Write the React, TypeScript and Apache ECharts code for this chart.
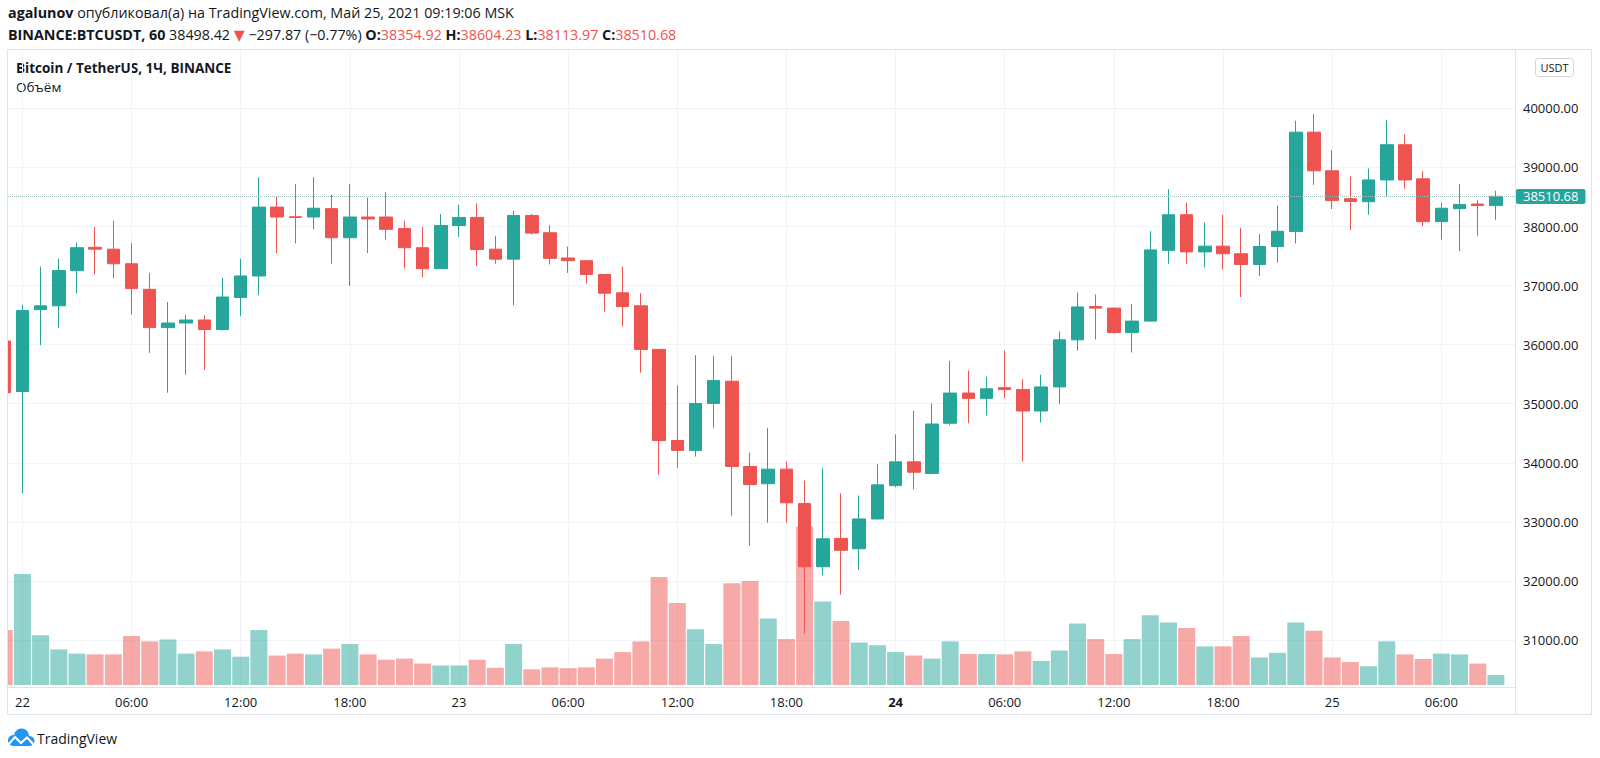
import React, { useEffect, useRef } from "react";
import * as echarts from "echarts";

// hours since 22 May 2021 00:00 (MSK), one candle per hour
const hours = [
  -1, 0, 1, 2, 3, 4, 5, 6, 7, 8, 9, 10, 11, 12, 13, 14, 15, 16, 17, 18, 19, 20,
  21, 22, 23, 24, 25, 26, 27, 28, 29, 30, 31, 32, 33, 34, 35, 36, 37, 38, 39, 40,
  41, 42, 43, 44, 45, 46, 47, 48, 49, 50, 51, 52, 53, 54, 55, 56, 57, 58, 59, 60,
  61, 62, 63, 64, 65, 66, 67, 68, 69, 70, 71, 72, 73, 74, 75, 76, 77, 78, 79, 80, 81,
];

const openP = [
  36062, 35207, 36593, 36658, 37254, 37649, 37617, 37370, 36937, 36289, 36367, 36418,
  36256, 36800, 37163, 38329, 38165, 38161, 38303, 37811, 38161, 38161, 37966, 37642,
  37286, 38018, 38154, 37617, 37448, 38187, 37895, 37468, 37422, 37189, 36878, 36658,
  35920, 34378, 34210, 35006, 35382, 33938, 33646, 33893, 33310, 32241, 32720, 32545,
  33050, 33614, 34016, 33821, 34670, 35181, 35091, 35272, 35240, 34877, 35285, 36082,
  36645, 36619, 36205, 36399, 37597, 38200, 37571, 37668, 37539, 37358, 37662, 37915,
  39598, 38944, 38472, 38420, 38789, 39385, 38808, 38083, 38303, 38381, 38354.92,
];
const closeP = [
  35188, 36580, 36658, 37254, 37642, 37617, 37370, 36949, 36289, 36367, 36418, 36256,
  36807, 37163, 38329, 38161, 38155, 38310, 37811, 38161, 38128, 37953, 37642, 37286,
  38018, 38154, 37610, 37448, 38187, 37889, 37461, 37422, 37189, 36872, 36645, 35920,
  34378, 34210, 35006, 35395, 33938, 33633, 33893, 33323, 32241, 32714, 32519, 33050,
  33627, 34016, 33841, 34657, 35181, 35091, 35253, 35240, 34877, 35285, 36082, 36639,
  36619, 36205, 36399, 37604, 38200, 37571, 37668, 37539, 37358, 37662, 37921, 39598,
  38944, 38439, 38426, 38789, 39385, 38789, 38083, 38310, 38374, 38354.92, 38510.68,
];
const lowP = [
  35100, 33485, 35991, 36282, 36872, 37189, 37124, 36509, 35861, 35188, 35492, 35576,
  36240, 36483, 36839, 37552, 37714, 37953, 37370, 36995, 37552, 37778, 37293, 37144,
  37280, 37824, 37332, 37370, 36665, 37863, 37358, 37215, 37034, 36561, 36308, 35525,
  33795, 33912, 34106, 34592, 33102, 32597, 32986, 32986, 31107, 32098, 31768, 32189,
  33040, 33588, 33549, 33810, 34637, 34670, 34799, 35091, 34022, 34683, 34994, 35900,
  36088, 36190, 35868, 36390, 37370, 37370, 37306, 37273, 36807, 37163, 37390, 37714,
  38705, 38297, 37940, 38200, 38504, 38640, 38005, 37778, 37584, 37843, 38113.97,
];
const highP = [
  36150, 36678, 37325, 37455, 37733, 37992, 38096, 37720, 37215, 36723, 36503, 36496,
  37131, 37455, 38834, 38510, 38718, 38834, 38536, 38718, 38491, 38588, 38102, 37992,
  38212, 38368, 38394, 37843, 38264, 38212, 38025, 37662, 37430, 37200, 37319, 36872,
  35930, 35311, 35823, 35810, 35810, 34171, 34592, 34022, 33698, 33905, 33484, 33446,
  33977, 34482, 34883, 35006, 35725, 35563, 35460, 35900, 35415, 35492, 36224, 36885,
  36852, 36630, 36690, 37921, 38633, 38407, 38070, 38200, 37973, 37876, 38355, 39793,
  39909, 39294, 38847, 38983, 39806, 39560, 38938, 38407, 38718, 38446, 38604.23,
];
const volume = [
  4320, 8700, 3900, 2790, 2460, 2400, 2400, 3840, 3420, 3570, 2460, 2640,
  2790, 2220, 4320, 2310, 2460, 2400, 2850, 3210, 2400, 1980, 2070, 1680,
  1530, 1530, 1980, 1350, 3210, 1230, 1380, 1320, 1380, 2070, 2580, 3420,
  8460, 6420, 4380, 3210, 7980, 8160, 5220, 3600, 12420, 6540, 5010, 3330,
  3120, 2580, 2310, 2070, 3420, 2430, 2430, 2400, 2640, 1890, 2700, 4830,
  3600, 2430, 3600, 5460, 4890, 4470, 3030, 3030, 3840, 2160, 2520, 4890,
  4260, 2160, 1800, 1470, 3420, 2400, 2040, 2460, 2400, 1680, 780,
];

const timeTicks = [0, 6, 12, 18, 24, 30, 36, 42, 48, 54, 60, 66, 72, 78];
const priceTicks = [31000, 32000, 33000, 34000, 35000, 36000, 37000, 38000, 39000, 40000];
const lastPrice = 38510.68;

const FONT = "'Open Sans', 'Noto Sans', 'DejaVu Sans', sans-serif";
const TXT = "#131722";
const UP = "#26a69a";
const DOWN = "#ef5350";
const UP_VOL = "rgba(38,166,154,0.5)";
const DOWN_VOL = "rgba(239,83,80,0.5)";
const GRID_C = "#f0f3fa";
const BORDER = "#e0e3eb";

function timeLabel(v: number): string {
  const d = Math.floor(v / 24);
  const hh = v - d * 24;
  if (hh === 0) {
    const day = 22 + d;
    return day === 24 ? "{b|" + day + "}" : String(day);
  }
  return (hh < 10 ? "0" : "") + hh + ":00";
}

export default function App() {
  const ref = useRef<HTMLDivElement>(null);
  useEffect(() => {
    const chart = echarts.init(ref.current!, null, { renderer: "svg" });
    const xMin = -0.792;
    const xMax = 82.05;
    const yMin = 30204.8;
    const yMax = 40988.7;
    const volMax = 23517;

    const option: any = {
      animation: false,
      backgroundColor: "#ffffff",
      textStyle: { fontFamily: FONT },
      grid: [
        { left: 8, right: 85, top: 50, bottom: 71 },
        { left: 8, right: 85, top: 385, bottom: 73 },
      ],
      xAxis: [
        {
          type: "value",
          gridIndex: 0,
          min: xMin,
          max: xMax,
          position: "bottom",
          axisLine: { show: true, onZero: false, lineStyle: { color: BORDER } },
          axisTick: { show: false, customValues: timeTicks },
          axisLabel: {
            customValues: timeTicks,
            formatter: (v: number) => timeLabel(v),
            fontSize: 13,
            color: TXT,
            margin: 8,
            fontFamily: FONT,
            rich: { b: { fontWeight: "bold", fontSize: 13, color: TXT, fontFamily: FONT } },
          },
          splitLine: { show: true, lineStyle: { color: GRID_C } },
        },
        { type: "value", gridIndex: 1, min: xMin, max: xMax, show: false },
      ],
      yAxis: [
        {
          type: "value",
          gridIndex: 0,
          position: "right",
          min: yMin,
          max: yMax,
          axisLine: { show: false },
          axisTick: { show: false, customValues: priceTicks },
          axisLabel: {
            customValues: priceTicks,
            formatter: (v: number) => v.toFixed(2),
            fontSize: 13,
            color: TXT,
            margin: 8,
            fontFamily: FONT,
          },
          splitLine: { show: true, lineStyle: { color: GRID_C } },
        },
        { type: "value", gridIndex: 1, min: 0, max: volMax, show: false, splitLine: { show: false } },
      ],
      series: [
        {
          type: "bar",
          xAxisIndex: 1,
          yAxisIndex: 1,
          barWidth: 17,
          silent: true,
          z: 1,
          clip: true,
          data: hours.map((h, i) => ({
            value: [h, volume[i]],
            itemStyle: { color: closeP[i] >= openP[i] ? UP_VOL : DOWN_VOL },
          })),
        },
        {
          type: "candlestick",
          xAxisIndex: 0,
          yAxisIndex: 0,
          barWidth: 13,
          silent: true,
          z: 3,
          clip: true,
          itemStyle: {
            color: UP,
            color0: DOWN,
            borderColor: UP,
            borderColor0: DOWN,
            borderWidth: 1,
          },
          data: hours.map((h, i) => [h, openP[i], closeP[i], lowP[i], highP[i]]),
          markLine: {
            silent: true,
            symbol: ["none", "none"],
            lineStyle: { type: "dotted", color: "#9bbdb9", width: 1 },
            label: {
              show: true,
              position: "end",
              distance: 1,
              formatter: (p: any) => Number(p.value).toFixed(2),
              backgroundColor: UP,
              color: "#ffffff",
              fontSize: 13,
              fontFamily: FONT,
              padding: [1, 7, 1, 7],
              borderRadius: 2,
            },
            data: [{ yAxis: lastPrice }],
          },
        },
      ],
      graphic: [
        {
          type: "rect",
          silent: true,
          z: 100,
          shape: { x: 0, y: 50, width: 7.5, height: 664 },
          style: { fill: "#ffffff" },
        },
        {
          type: "rect",
          silent: true,
          z: 101,
          shape: { x: 7.5, y: 49.5, width: 1584, height: 665 },
          style: { fill: "none", stroke: BORDER, lineWidth: 1 },
        },
        {
          type: "line",
          silent: true,
          z: 101,
          shape: { x1: 1515.5, y1: 50, x2: 1515.5, y2: 714 },
          style: { stroke: BORDER, lineWidth: 1 },
        },
        {
          type: "text",
          x: 8,
          y: 12.5,
          silent: true,
          style: {
            text: "{b|agalunov} опубликовал(а) на TradingView.com, Май 25, 2021 09:19:06 MSK",
            fontSize: 14.3,
            fontFamily: FONT,
            fill: TXT,
            verticalAlign: "middle",
            rich: {
              b: { fontWeight: "bold", fontSize: 14.3, fontFamily: FONT, fill: TXT },
            },
          },
        },
        {
          type: "text",
          x: 8,
          y: 34,
          silent: true,
          style: {
            text:
              "{b|BINANCE:BTCUSDT, 60} 38498.42 {r|▼} −297.87 (−0.77%) {b|O:}{r|38354.92} {b|H:}{r|38604.23} {b|L:}{r|38113.97} {b|C:}{r|38510.68}",
            fontSize: 14.3,
            fontFamily: FONT,
            fill: TXT,
            verticalAlign: "middle",
            rich: {
              b: { fontWeight: "bold", fontSize: 14.3, fontFamily: FONT, fill: TXT },
              r: { fontSize: 14.3, fontFamily: FONT, fill: DOWN },
            },
          },
        },
        {
          type: "text",
          x: 16,
          y: 67.5,
          silent: true,
          style: {
            text: "Bitcoin / TetherUS, 1Ч, BINANCE",
            fontSize: 13.5,
            fontWeight: "bold",
            fontFamily: FONT,
            fill: TXT,
            verticalAlign: "middle",
          },
        },
        {
          type: "text",
          x: 16,
          y: 87,
          silent: true,
          style: {
            text: "Объём",
            fontSize: 13.5,
            fontFamily: FONT,
            fill: TXT,
            verticalAlign: "middle",
          },
        },
        {
          type: "rect",
          silent: true,
          shape: { x: 1535.5, y: 58.5, width: 38, height: 18, r: 3 },
          style: { fill: "#ffffff", stroke: "#d1d4dc", lineWidth: 1 },
        },
        {
          type: "text",
          x: 1554.5,
          y: 67.5,
          silent: true,
          style: {
            text: "USDT",
            fontSize: 11,
            fontFamily: FONT,
            fill: TXT,
            align: "center",
            verticalAlign: "middle",
          },
        },
        {
          type: "group",
          silent: true,
          children: [
            { type: "circle", shape: { cx: 13.5, cy: 740.5, r: 5.5 }, style: { fill: "#2196f3" } },
            { type: "circle", shape: { cx: 21.5, cy: 736, r: 7.5 }, style: { fill: "#2196f3" } },
            { type: "circle", shape: { cx: 29.5, cy: 741, r: 5 }, style: { fill: "#2196f3" } },
            { type: "rect", shape: { x: 13.5, y: 739, width: 16, height: 7 }, style: { fill: "#2196f3" } },
            {
              type: "polyline",
              shape: { points: [[8, 745], [15, 737], [21, 743], [27, 737.5], [34, 745]] },
              style: { stroke: "#ffffff", lineWidth: 2, fill: "none" },
            },
          ],
        },
        {
          type: "text",
          x: 37,
          y: 738,
          silent: true,
          style: {
            text: "TradingView",
            fontSize: 14,
            fontFamily: FONT,
            fill: TXT,
            verticalAlign: "middle",
          },
        },
      ],
    };
    chart.setOption(option);
    return () => chart.dispose();
  }, []);
  return (
    <div
      ref={ref}
      style={{ position: "fixed", left: 0, top: 0, width: 1600, height: 758, background: "#fff" }}
    />
  );
}
